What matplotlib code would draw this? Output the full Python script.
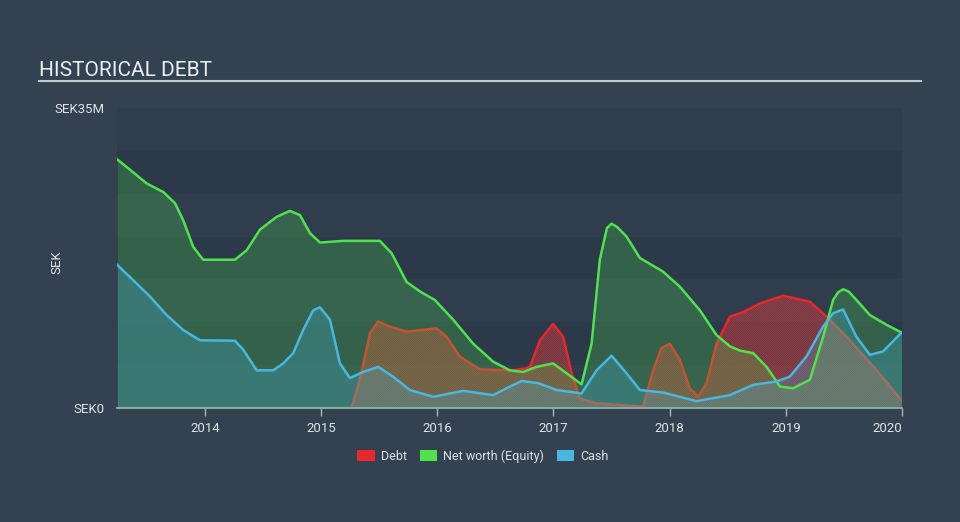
import matplotlib
matplotlib.use("Agg")
import matplotlib.pyplot as plt
from matplotlib.lines import Line2D
from matplotlib.patches import Patch

plt.rcParams["font.family"] = ["Roboto", "DejaVu Sans"]
plt.rcParams["hatch.linewidth"] = 0.6

# values in SEK millions, dates as decimal years
equity_t = [2013.245, 2013.355, 2013.498, 2013.641, 2013.742, 2013.813, 2013.899, 2013.985,
            2014.258, 2014.359, 2014.473, 2014.617, 2014.731, 2014.818, 2014.904, 2014.990,
            2015.190, 2015.506, 2015.607, 2015.736, 2015.850, 2015.979, 2016.137, 2016.309,
            2016.481, 2016.625, 2016.739, 2016.855, 2016.997, 2017.113, 2017.242, 2017.328,
            2017.399, 2017.460, 2017.500, 2017.550, 2017.629, 2017.744, 2017.944, 2018.088,
            2018.260, 2018.404, 2018.518, 2018.604, 2018.719, 2018.834, 2018.950, 2019.063,
            2019.207, 2019.321, 2019.407, 2019.450, 2019.493, 2019.540, 2019.608, 2019.723,
            2019.867, 2019.996]
equity_v = [29.0, 27.8, 26.2, 25.2, 23.9, 21.9, 18.8, 17.3,
            17.3, 18.4, 20.8, 22.3, 23.0, 22.5, 20.4, 19.3,
            19.5, 19.5, 18.05, 14.7, 13.6, 12.6, 10.3, 7.5,
            5.4, 4.4, 4.2, 4.8, 5.2, 4.05, 2.75, 7.5,
            17.3, 21.0, 21.5, 21.1, 20.0, 17.5, 15.9, 14.15,
            11.4, 8.5, 7.2, 6.7, 6.4, 4.8, 2.5, 2.3,
            3.3, 8.3, 12.6, 13.5, 13.85, 13.6, 12.6, 10.85,
            9.7, 8.8]

cash_t = [2013.245, 2013.383, 2013.527, 2013.670, 2013.813, 2013.957, 2014.258, 2014.330,
          2014.445, 2014.588, 2014.674, 2014.760, 2014.846, 2014.932, 2014.990, 2015.076,
          2015.162, 2015.248, 2015.362, 2015.491, 2015.620, 2015.764, 2015.965, 2016.223,
          2016.481, 2016.596, 2016.725, 2016.868, 2017.027, 2017.242, 2017.371, 2017.500,
          2017.629, 2017.744, 2017.944, 2018.232, 2018.518, 2018.719, 2018.920, 2019.034,
          2019.177, 2019.321, 2019.407, 2019.493, 2019.608, 2019.723, 2019.837, 2019.996]
cash_v = [16.7, 14.9, 13.0, 10.85, 9.1, 7.9, 7.85, 6.8,
          4.4, 4.4, 5.2, 6.4, 9.1, 11.4, 11.75, 10.3,
          5.2, 3.5, 4.2, 4.8, 3.65, 2.1, 1.3, 2.0,
          1.5, 2.3, 3.15, 2.9, 2.1, 1.7, 4.4, 6.1,
          4.05, 2.1, 1.8, 0.8, 1.5, 2.7, 3.1, 3.65,
          6.0, 9.5, 11.05, 11.5, 8.3, 6.2, 6.6, 8.8]

debt_t = [2013.243, 2015.262, 2015.334, 2015.420, 2015.491, 2015.592, 2015.736, 2015.994,
          2016.080, 2016.194, 2016.367, 2016.653, 2016.754, 2016.797, 2016.883, 2016.997,
          2017.084, 2017.156, 2017.227, 2017.371, 2017.772, 2017.858, 2017.930, 2018.002,
          2018.088, 2018.174, 2018.245, 2018.318, 2018.404, 2018.518, 2018.633, 2018.777,
          2018.977, 2019.207, 2019.364, 2019.551, 2019.781, 2019.996]
debt_v = [0.0, 0.0, 3.3, 8.7, 10.1, 9.5, 8.9, 9.3,
          8.3, 6.0, 4.5, 4.4, 4.6, 4.8, 7.9, 9.8,
          8.3, 4.05, 1.1, 0.55, 0.15, 4.4, 7.0, 7.5,
          5.6, 2.3, 1.3, 2.9, 7.5, 10.65, 11.2, 12.2,
          13.1, 12.4, 10.5, 7.9, 4.4, 0.9]

years = [2014, 2015, 2016, 2017, 2018, 2019, 2020]
y_ticks = [0, 35]
y_labels = ["SEK0", "SEK35M"]

RED = "#e8262b"
GREEN = "#4fe34d"
BLUE = "#47b8e0"
BG = "#334151"
TXT = "#dfe3e7"

fig = plt.figure(figsize=(9.6, 5.22), dpi=100, facecolor=BG)
ax = fig.add_axes([117 / 960, 114 / 522, 785 / 960, 300 / 522])
ax.set_facecolor("#2e3b4a")

# horizontal background bands
for i, lo in enumerate(range(0, 35, 5)):
    ax.axhspan(lo, lo + 5, color="#2f3d4d" if i % 2 == 0 else "#2c3948", lw=0, zorder=0)

ax.fill_between(debt_t, 0, debt_v, facecolor=(0.91, 0.15, 0.17, 0.08),
                edgecolor=(0.93, 0.25, 0.25, 0.6), hatch="/" * 18, lw=0, zorder=2)
ax.plot(debt_t, debt_v, color=RED, lw=1.8, zorder=2.2)
ax.fill_between(equity_t, 0, equity_v, color=GREEN, alpha=0.24, lw=0, zorder=3)
ax.fill_between(cash_t, 0, cash_v, color=BLUE, alpha=0.26, lw=0, zorder=3.5)
ax.plot(equity_t, equity_v, color=GREEN, lw=1.8, zorder=4)
ax.plot(cash_t, cash_v, color=BLUE, lw=1.8, zorder=4.5)

ax.set_xlim(2013.243, 2020.0)
ax.set_ylim(0, 35)
for s in ("top", "right", "left"):
    ax.spines[s].set_visible(False)
ax.spines["bottom"].set_color("#aab3bd")
ax.spines["bottom"].set_linewidth(1.2)

ax.set_xticks(years)
ax.set_xticklabels([str(y) for y in years])
ax.tick_params(axis="x", colors="#aab3bd", labelcolor=TXT, labelsize=9.5, length=6, width=1, pad=4)
ax.get_xticklabels()[-1].set_ha("right")

ax.set_yticks(y_ticks)
ax.set_yticklabels(y_labels)
ax.tick_params(axis="y", length=0, labelcolor=TXT, labelsize=9.5, pad=9)

fig.text(57 / 960, 1 - 262 / 522, "SEK", color=TXT, fontsize=9.5, rotation=90,
         ha="center", va="center")
fig.text(39 / 960, 1 - 70 / 522, "HISTORICAL DEBT", color="#eceff2", fontsize=15,
         ha="left", va="center")
fig.add_artist(Line2D([39 / 960, 921 / 960], [1 - 81 / 522, 1 - 81 / 522],
                      color="#c4c9cf", lw=1.5))

handles = [Patch(facecolor=RED, edgecolor="none", label="Debt"),
           Patch(facecolor=GREEN, edgecolor="none", label="Net worth (Equity)"),
           Patch(facecolor=BLUE, edgecolor="none", label="Cash")]
leg = fig.legend(handles=handles, loc="center", bbox_to_anchor=(483 / 960, 1 - 456 / 522),
                 ncol=3, frameon=False, fontsize=9, handlelength=1.4, handleheight=1.0,
                 columnspacing=1.0, handletextpad=0.5)
for t in leg.get_texts():
    t.set_color(TXT)

fig.savefig("out.png", dpi=100, facecolor=BG)
